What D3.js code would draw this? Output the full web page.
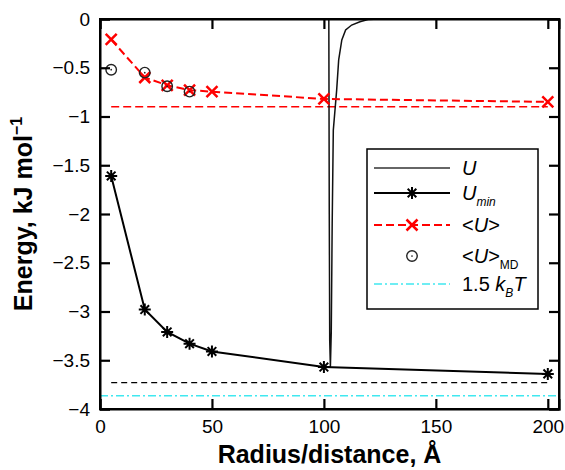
<!DOCTYPE html>
<html><head><meta charset="utf-8">
<script src="https://cdn.jsdelivr.net/npm/d3@7"></script>
<style>body{margin:0;background:#fff;position:relative} svg{display:block;font-family:"Liberation Sans",Arial,sans-serif}</style>
</head><body><svg id="c" width="565" height="470"></svg>
<script>
// ---- data ----
const xTicks = [0, 50, 100, 150, 200];
const yTicks = [0, -0.5, -1, -1.5, -2, -2.5, -3, -3.5, -4];
const radius = [5, 20, 30, 40, 50, 100, 200];
const uMin = [-1.61, -2.98, -3.21, -3.33, -3.41, -3.57, -3.64];
const uAvg = [-0.21, -0.60, -0.68, -0.73, -0.745, -0.82, -0.85];
const mdRadius = [5, 20, 30, 40];
const uMD = [-0.52, -0.55, -0.69, -0.745];
const uDist = [102.2, 102.4, 102.6, 102.9, 103.3, 103.7, 104.2, 105.7, 106.6, 108, 109.7, 112.4, 116.1, 119.7, 125];
const uCurve = [0, -2, -3.3, -3.57, -3.2, -2.1, -1.14, -0.73, -0.42, -0.215, -0.113, -0.062, -0.028, -0.005, 0];
const refAvgX = [5, 200], refAvg = [-0.9, -0.9];
const refMinX = [5, 200], refMin = [-3.73, -3.73];
const kTX = [0, 205], kT = [-3.865, -3.865];

// ---- layout ----
const svg = d3.select("#c");
const L = 100, R = 559, T = 19, B = 409;
const x = d3.scaleLinear().domain([0, 205]).range([L, R]);
const y = d3.scaleLinear().domain([-4, 0]).range([B, T]);
const fmt = d3.format("");
const noLabel = () => "";

const line = d3.line().x(d => x(d[0])).y(d => y(d[1]));
const zip = (a, b) => a.map((v, i) => [v, b[i]]);

const plot = svg.append("g");

plot.append("path").attr("d", line(zip(kTX, kT))).attr("fill", "none")
  .attr("stroke", "#40e8f0").attr("stroke-width", 1.5).attr("stroke-dasharray", "8,3,2,3");
plot.append("path").attr("d", line(zip(refMinX, refMin))).attr("fill", "none")
  .attr("stroke", "#000").attr("stroke-width", 1.3).attr("stroke-dasharray", "6,4");
plot.append("path").attr("d", line(zip(refAvgX, refAvg))).attr("fill", "none")
  .attr("stroke", "#f00").attr("stroke-width", 1.6).attr("stroke-dasharray", "8,4");

plot.append("path").attr("d", line(zip(uDist, uCurve))).attr("fill", "none")
  .attr("stroke", "#111").attr("stroke-width", 1.5);

const starType = { draw(ctx, size) { const r = Math.sqrt(size) / 2; const d = r * 0.72;
  ctx.moveTo(-r, 0); ctx.lineTo(r, 0); ctx.moveTo(0, -r); ctx.lineTo(0, r);
  ctx.moveTo(-d, -d); ctx.lineTo(d, d); ctx.moveTo(-d, d); ctx.lineTo(d, -d); } };
const timesType = { draw(ctx, size) { const r = Math.sqrt(size) / 2;
  ctx.moveTo(-r, -r); ctx.lineTo(r, r); ctx.moveTo(-r, r); ctx.lineTo(r, -r); } };
const circType = { draw(ctx, size) { const r = Math.sqrt(size) / 2;
  ctx.moveTo(r, 0); ctx.arc(0, 0, r, 0, 2 * Math.PI); } };

plot.append("path").attr("d", line(zip(radius, uMin))).attr("fill", "none")
  .attr("stroke", "#000").attr("stroke-width", 2);
plot.append("g").selectAll("path").data(zip(radius, uMin)).join("path")
  .attr("transform", d => `translate(${x(d[0])},${y(d[1])})`)
  .attr("d", d3.symbol(starType, 144)).attr("fill", "none").attr("stroke", "#000").attr("stroke-width", 2);

plot.append("path").attr("d", line(zip(radius, uAvg))).attr("fill", "none")
  .attr("stroke", "#f00").attr("stroke-width", 2).attr("stroke-dasharray", "8,4");
plot.append("g").selectAll("path").data(zip(radius, uAvg)).join("path")
  .attr("transform", d => `translate(${x(d[0])},${y(d[1])})`)
  .attr("d", d3.symbol(timesType, 121)).attr("fill", "none").attr("stroke", "#f00").attr("stroke-width", 2.5);

const mdG = plot.append("g").selectAll("g").data(zip(mdRadius, uMD)).join("g")
  .attr("transform", d => `translate(${x(d[0])},${y(d[1])})`);
mdG.append("path").attr("d", d3.symbol(circType, 110)).attr("fill", "none").attr("stroke", "#222").attr("stroke-width", 1.4);
mdG.append("path").attr("d", d3.symbol(circType, 3)).attr("fill", "#222");

svg.append("text").attr("x", (L + R) / 2).attr("y", 463).attr("text-anchor", "middle")
  .attr("font-size", 25).attr("font-weight", "bold").text("Radius/distance, Å");
const yl = svg.append("text").attr("transform", `translate(32,${(T + B) / 2}) rotate(-90)`)
  .attr("text-anchor", "middle").attr("font-size", 25).attr("font-weight", "bold");
yl.append("tspan").text("Energy, kJ mol");
yl.append("tspan").attr("font-size", 16).attr("dy", -10).text("−1");

const lg = svg.append("g");
lg.append("rect").attr("x", 367).attr("y", 149).attr("width", 171).attr("height", 160)
  .attr("fill", "#fff").attr("stroke", "#000").attr("stroke-width", 1.5);
const lx0 = 374, lx1 = 450, lm = 412, tx = 462;
const rows = [168, 193, 225, 256, 284];
lg.append("line").attr("x1", lx0).attr("x2", lx1).attr("y1", rows[0]).attr("y2", rows[0]).attr("stroke", "#333").attr("stroke-width", 1.5);
lg.append("line").attr("x1", lx0).attr("x2", lx1).attr("y1", rows[1]).attr("y2", rows[1]).attr("stroke", "#000").attr("stroke-width", 2);
lg.append("path").attr("transform", `translate(${lm},${rows[1]})`).attr("d", d3.symbol(starType, 144)).attr("fill", "none").attr("stroke", "#000").attr("stroke-width", 2);
lg.append("line").attr("x1", lx0).attr("x2", lx1).attr("y1", rows[2]).attr("y2", rows[2]).attr("stroke", "#f00").attr("stroke-width", 2).attr("stroke-dasharray", "8,4");
lg.append("path").attr("transform", `translate(${lm},${rows[2]})`).attr("d", d3.symbol(timesType, 121)).attr("fill", "none").attr("stroke", "#f00").attr("stroke-width", 2.5);
lg.append("path").attr("transform", `translate(${lm},${rows[3]})`).attr("d", d3.symbol(circType, 110)).attr("fill", "none").attr("stroke", "#222").attr("stroke-width", 1.4);
lg.append("path").attr("transform", `translate(${lm},${rows[3]})`).attr("d", d3.symbol(circType, 3)).attr("fill", "#222");
lg.append("line").attr("x1", lx0).attr("x2", lx1).attr("y1", rows[4]).attr("y2", rows[4]).attr("stroke", "#40e8f0").attr("stroke-width", 1.5).attr("stroke-dasharray", "8,3,2,3");

const lt = (row) => lg.append("text").attr("x", tx).attr("y", row + 7).attr("font-size", 20);
let t = lt(rows[0]); t.append("tspan").attr("font-style", "italic").text("U");
t = lt(rows[1]); t.append("tspan").attr("font-style", "italic").text("U");
t.append("tspan").attr("font-style", "italic").attr("font-size", 12).attr("dy", 6).text("min");
t = lt(rows[2]); t.append("tspan").text("<"); t.append("tspan").attr("font-style", "italic").text("U"); t.append("tspan").text(">");
t = lt(rows[3]); t.append("tspan").text("<"); t.append("tspan").attr("font-style", "italic").text("U"); t.append("tspan").text(">");
t.append("tspan").attr("font-size", 12).attr("dy", 6).text("MD");
t = lt(rows[4]); t.append("tspan").text("1.5 "); t.append("tspan").attr("font-style", "italic").text("k");
t.append("tspan").attr("font-style", "italic").attr("font-size", 12).attr("dy", 6).text("B");
t.append("tspan").attr("font-style", "italic").attr("dy", -6).text("T");

// ---- axes ----
const fs = 19;
const gB = svg.append("g").attr("transform", `translate(0,${B})`)
  .call(d3.axisBottom(x).tickValues(xTicks).tickSize(-10).tickPadding(11).tickFormat(fmt));
const gL = svg.append("g").attr("transform", `translate(${L},0)`)
  .call(d3.axisLeft(y).tickValues(yTicks).tickSize(-10).tickPadding(10).tickFormat(fmt));
const gT = svg.append("g").attr("transform", `translate(0,${T})`)
  .call(d3.axisTop(x).tickValues(xTicks).tickSize(-10).tickFormat(noLabel));
const gR = svg.append("g").attr("transform", `translate(${R},0)`)
  .call(d3.axisRight(y).tickValues(yTicks).tickSize(-10).tickFormat(noLabel));
[gB, gL, gT, gR].forEach(g => {
  g.select(".domain").attr("stroke", "#000").attr("stroke-width", 2);
  g.selectAll(".tick line").attr("stroke", "#000").attr("stroke-width", 2.2);
  g.selectAll(".tick text").attr("fill", "#000").attr("font-size", fs)
    .attr("font-family", "'Liberation Sans', Arial, sans-serif");
});

// frame: separate overlay element on top of the svg
d3.select("body").append("div")
  .style("position", "absolute").style("left", (L - 1) + "px").style("top", (T - 1) + "px")
  .style("width", (R - L - 2) + "px").style("height", (B - T - 2) + "px")
  .style("border", "2px solid #000").style("pointer-events", "none");
</script></body></html>
